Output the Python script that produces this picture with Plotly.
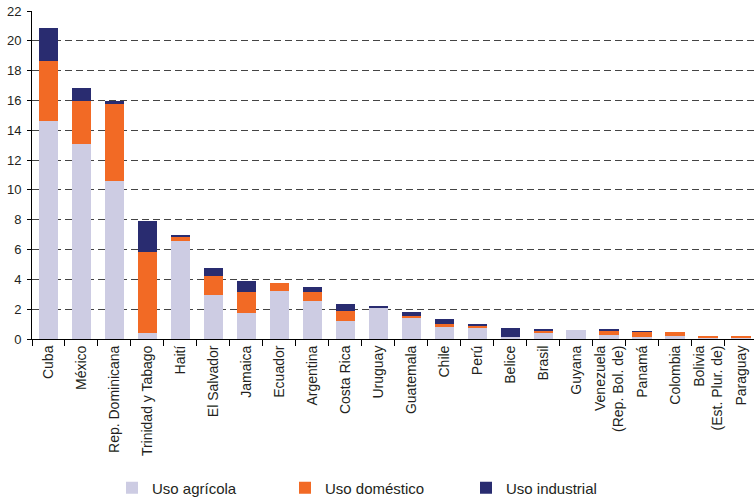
import plotly.graph_objects as go

countries = ["Cuba", "México", "Rep. Dominicana", "Trinidad y Tabago", "Haití", "El Salvador",
             "Jamaica", "Ecuador", "Argentina", "Costa Rica", "Uruguay", "Guatemala", "Chile",
             "Perú", "Belice", "Brasil", "Guyana", "Venezuela<br>(Rep. Bol. de)", "Panamá",
             "Colombia", "Bolivia<br>(Est. Plur. de)", "Paraguay"]

# segment values
agricola = [14.61, 13.07, 10.59, 0.42, 6.57, 2.95, 1.74, 3.22, 2.55, 1.21, 2.14, 1.41, 0.80,
            0.80, 0.13, 0.40, 0.60, 0.27, 0.13, 0.20, 0.13, 0.07]
domestico = [4.02, 2.88, 5.16, 5.41, 0.26, 1.27, 1.41, 0.53, 0.60, 0.67, 0.00, 0.13, 0.21,
             0.07, 0.00, 0.14, 0.00, 0.27, 0.37, 0.27, 0.08, 0.08]
industrial = [2.21, 0.87, 0.22, 2.08, 0.14, 0.54, 0.74, 0.00, 0.33, 0.47, 0.07, 0.27, 0.33,
              0.14, 0.61, 0.13, 0.00, 0.13, 0.03, 0.00, 0.00, 0.00]

y_ticks = list(range(0, 23, 2))

FONT = "Liberation Sans, Arial, Helvetica, sans-serif"
TXT = "#231f20"

fig = go.Figure()
fig.add_bar(x=countries, y=agricola, name="Uso agrícola", marker_color="#cdcce3",
            marker_line_width=0, legend="legend")
fig.add_bar(x=countries, y=domestico, name="Uso doméstico", marker_color="#f26a25",
            marker_line_width=0, legend="legend2")
fig.add_bar(x=countries, y=industrial, name="Uso industrial", marker_color="#292c70",
            marker_line_width=0, legend="legend3")

W, H = 754, 499
ml, mr, mt = 32, 0, 11
plot_bottom = 339
mb = H - plot_bottom
pw = W - ml - mr
ph = H - mt - mb

def lx(px):
    return (px - ml) / pw

ly = (plot_bottom - 488) / ph

leg_common = dict(orientation="h", yanchor="middle", y=ly, xanchor="left",
                  font=dict(family=FONT, size=15, color=TXT), bgcolor="rgba(0,0,0,0)",
                  borderwidth=0)

fig.update_layout(
    barmode="stack",
    bargap=0.41,
    width=W, height=H,
    margin=dict(l=ml, r=mr, t=mt, b=mb, pad=0, autoexpand=False),
    plot_bgcolor="white", paper_bgcolor="white",
    font=dict(family=FONT, size=13, color=TXT),
    showlegend=True,
    legend=dict(x=lx(127 - 15), **leg_common),
    legend2=dict(x=lx(300 - 15), **leg_common),
    legend3=dict(x=lx(481 - 15), **leg_common),
    xaxis=dict(
        range=[-0.5, 21.39],
        automargin=False,
        tickangle=-90,
        tickson="boundaries",
        ticks="outside", ticklen=6, tickcolor="black", tickwidth=1,
        showline=True, linecolor="black", linewidth=1,
        showgrid=False,
        tickfont=dict(family=FONT, size=14, color=TXT),
    ),
    yaxis=dict(
        range=[0, 22],
        automargin=False,
        tickvals=y_ticks,
        ticks="outside", ticklen=4, tickcolor="black", tickwidth=1,
        ticklabelstandoff=3,
        ticklabeloverflow="allow",
        showline=True, linecolor="black", linewidth=1,
        showgrid=True, gridcolor="#444", gridwidth=1, griddash="7px,4px",
        zeroline=False,
        tickfont=dict(family=FONT, size=13, color=TXT),
    ),
)

fig.write_html("out.html", config={"displayModeBar": False},
               post_script="document.body.style.margin='0px';")
